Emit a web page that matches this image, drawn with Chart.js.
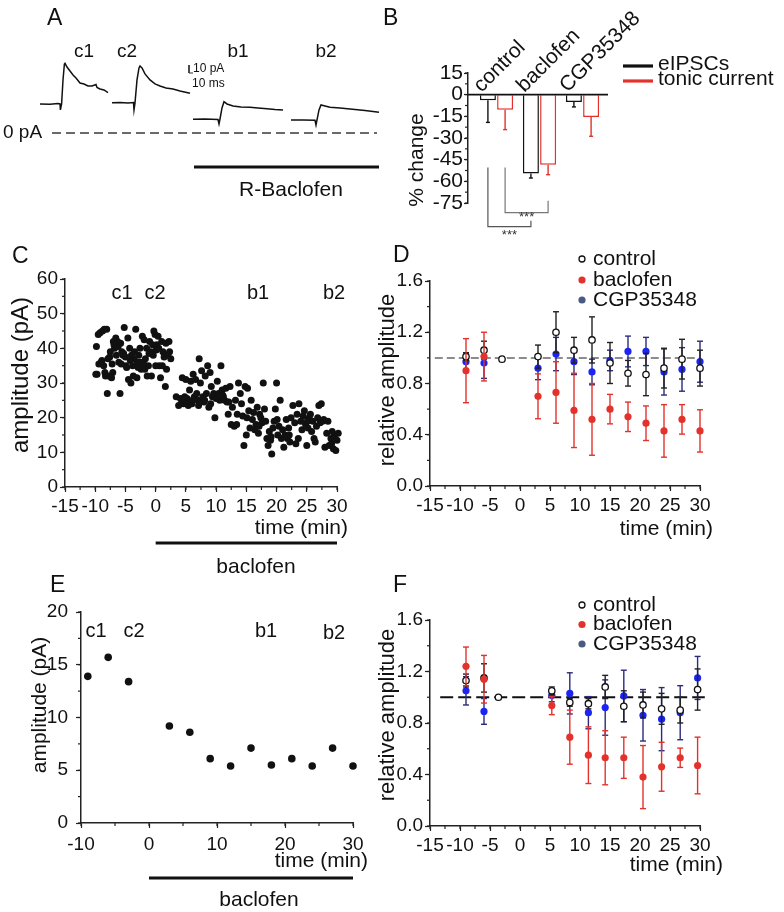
<!DOCTYPE html>
<html>
<head>
<meta charset="utf-8">
<script src="https://cdn.jsdelivr.net/npm/chart.js@4.4.1/dist/chart.umd.min.js"></script>
<style>
  html, body { margin: 0; padding: 0; background: #fff; }
  #page { position: relative; width: 784px; height: 912px; overflow: hidden; background: #fff; }
  #page canvas { position: absolute; left: 0; top: 0; }
</style>
</head>
<body>
<div id="page">
  <canvas id="chartA" width="784" height="912"></canvas>
  <canvas id="chartB" width="784" height="912"></canvas>
  <canvas id="chartC" width="784" height="912"></canvas>
  <canvas id="chartD" width="784" height="912"></canvas>
  <canvas id="chartE" width="784" height="912"></canvas>
  <canvas id="chartF" width="784" height="912"></canvas>
</div>
<script>
// ---------- panel A: example traces, [time ms, current pA] ----------
const traceC1 = [[0,36.3],[25,35.9],[45,36.9],[50,36.3],[51,28.8],[54,36.3],[57.5,66.3],[61,86.3],[62.5,87.1],
  [67.5,82.5],[75,77.5],[82.5,72.5],[90,68.8],[100,62.5],[110,61.3],[120,58.8],[130,58.8],[140,60.6],
  [142.5,56.9],[150,55],[160,53.8],[170,50.4]];
const traceC2 = [[180,37.9],[200,38.1],[220,37.5],[233.75,38.1],[235,28.8],[237.5,37.5],[242.5,66.3],[247.5,81.3],
  [250,83.8],[255,81.3],[262.5,73.8],[275,66.3],[287.5,61.3],[300,58.8],[315,56.3],[332.5,55],[350,52.5],[375,49.6]];
const traceB1 = [[382.5,17.1],[412.5,17.5],[445,16.9],[447.5,11.3],[450,17.5],[455,31.3],[460,39.1],[467.5,36.3],
  [482.5,33.8],[502.5,32.5],[525,32.1],[545,31.3],[567.5,30.4],[587.5,29.4],[607.5,28.8]];
const traceB2 = [[627.5,16.3],[657.5,16.3],[687.5,15.9],[690,10],[692.5,16.3],[697.5,28.8],[702.5,35],[712.5,33.8],
  [725,32.1],[750,31.3],[775,30],[812.5,28.1],[847.5,25.9]];
const zeroLineA = [[30,0],[842.5,0]];
const scaleBarA = [[372.5,85],[372.5,75],[382.5,75]];
const drugBarA = [[385,-42.5],[847.5,-42.5]];

// ---------- panel B: % change ----------
const groups = ['control', 'baclofen', 'CGP35348'];
const groupX = [1, 2, 3];
const eipscChange = [-3.9, -54.5, -5.1];
const eipscSem = [15.3, 3.2, 3.4];
const tonicChange = [-10.4, -48.5, -15.5];
const tonicSem = [13.8, 6.9, 13.3];

// ---------- panel C: single cell eIPSC amplitude ----------
const cTime = [
  -9.8,-9.7,-9.5,-9.2,-9,-8.8,-8.6,-8.5,-8.3,-8.1,
  -8,-7.8,-7.6,-7.5,-7.3,-7.1,-7,-6.8,-6.6,-6.5,
  -6.3,-6.1,-5.9,-5.8,-5.6,-5.4,-5.2,-5,-4.8,-4.6,
  -4.5,-4.3,-4.1,-4,-3.8,-3.6,-3.5,-3.3,-3.1,-3,
  -2.8,-2.6,-2.4,-2.2,-2,-1.9,-1.7,-1.5,-1.4,-1.2,
  -1,-0.8,-0.7,-0.5,-0.3,-0.1,0,0.2,0.4,0.6,
  0.8,1,1.2,1.4,1.6,1.8,2,2.2,2.5,3.4,
  3.8,4.1,4.4,4.6,4.8,5,5.2,5.4,5.6,5.8,
  6,6.2,6.4,6.6,6.8,7,7.2,7.4,7.6,7.8,
  8,8.2,8.4,8.6,8.8,9,9.2,9.4,9.6,9.8,
  10,10.2,10.4,10.6,10.8,11,11.2,11.4,11.6,11.8,
  12,12.3,12.5,12.7,13,13.2,13.5,13.7,14,14.2,
  14.4,14.6,14.8,15,15.2,15.4,15.6,15.8,16,16.2,
  16.4,16.6,16.8,17,17.2,17.4,17.6,17.8,18,18.2,
  18.4,18.6,18.8,19,19.2,19.4,19.6,19.8,20,20.2,
  20.4,20.6,20.8,21,21.2,21.4,21.6,21.8,22,22.2,
  22.4,22.7,23,23.2,23.4,23.7,24,24.2,24.4,24.6,
  24.8,25,25.2,25.4,25.6,25.8,26,26.2,26.4,26.6,
  26.8,27,27.2,27.4,27.6,28,28.3,28.5,28.7,29,
  29.2,29.4,29.6,29.8,30,30.2,
  -9.9,-9.4,-8.9,-8.4,-7.9,-7.2,-6.9,-6.2,-5.7,-5.3,
  -4.9,-4.2,-3.7,-2.9,-2.5,-1.8,-1.1,-0.4,0.1,0.5,
  1.1,1.7,2.3,4.3,5.1,6.1,7.1,8.1,9.1,11.1,
  12.1,13.4,15.1,17.1,19.1,20.1,22.1,23.6,25.1,27.8,
  29.1];
const cAmp = [
  40.5,32.5,44,44.5,36,45,35,45.5,32,45.5,
  27,32,37.5,39,31.5,33,42,40,43,38,
  42,36,27,41.5,39,38,46,37.5,34.5,43,
  31,40,30,38,35,37,39,45.5,31.5,36,
  38,40,34,43.5,35.5,42.5,37,40,32,35,
  42,39,32,41,45,44,35,41,43.5,35,
  31.5,42,39,37.5,29,34,38,42,37,26,
  23.5,25.5,31.5,24,26,31,25.5,23.5,28,30.5,
  24,32.5,26,31,27,25,37,30,33.5,26,
  24.5,32,27,35,23,33,29,26,27,20,
  25.5,30.5,27,25,35,28,26,25,28.5,24.5,
  21,29,18,23,17.5,25,21,30,27,24,
  20.5,12,29,15,28.5,22,17,25,19.5,21.5,
  16.5,18,23,15.5,21,20,18.5,30,22.5,19,
  14,12,16,13.5,9.5,17,19,22.5,30,15,
  17.5,25,14,16.5,11.5,15,19.5,14,17,13,
  20,23.5,18.5,12.5,21,24,19,16.5,20.5,22,
  18,12,17,20,21,16,19,14,13,17.5,
  20,23.5,18.5,24,19,11.5,15.5,19,12,14,
  16,11,15,10.5,13.5,15.5,
  32.5,35.5,36.5,33,37,35.5,41,40.5,35.5,38.5,
  35,36.5,32,34.5,36,34,38.5,38,39.5,40,
  35,41.5,39,25,24,25,23.5,25,24,26.5,
  24.5,18,20,17.5,14.5,19.5,15,14,19,19.5,
  12.5];

// ---------- panel D: relative eIPSC amplitude ----------
const dTimeCtrl = [-9,-6,-3,3,6,9,12,15,18,21,24,27,30];
const dCtrl    = [1.01,1.06,0.99,1.01,1.20,1.06,1.14,0.96,0.88,0.87,0.92,0.99,0.92];
const dCtrlErr = [0.03,0.07,0,0.09,0.16,0.10,0.18,0.16,0.10,0.165,0.155,0.155,0.14];
const dTime    = [-9,-6,3,6,9,12,15,18,21,24,27,30];
const dBac     = [0.90,1.01,0.70,0.73,0.59,0.52,0.60,0.54,0.49,0.43,0.52,0.43];
const dBacErr  = [0.25,0.19,0.175,0.24,0.29,0.28,0.115,0.115,0.135,0.205,0.115,0.165];
const dCgp     = [0.97,0.96,0.92,1.03,0.97,0.89,0.98,1.05,1.05,0.89,0.91,0.97];
const dCgpErr  = [0.07,0.12,0.09,0.13,0.10,0.10,0.08,0.12,0.11,0.18,0.17,0.16];

// ---------- panel E: single cell tonic current ----------
const eTime = [-9,-6,-3,3,6,9,12,15,18,21,24,27,30];
const eAmp  = [13.9,15.7,13.4,9.2,8.6,6.1,5.4,7.1,5.5,6.1,5.4,7.1,5.4];

// ---------- panel F: relative tonic current ----------
const fTimeCtrl = [-9,-6,-3.6,5.3,8.3,11.4,14.2,17.3,20.5,23.6,26.7,29.6];
const fCtrl    = [1.13,1.15,1.0,1.05,0.96,0.95,1.08,0.93,0.94,0.91,0.90,1.06];
const fCtrlErr = [0.05,0.11,0,0.03,0.03,0.04,0.09,0.12,0.10,0.12,0.10,0.16];
const fTime    = [-9,-6,5.3,8.3,11.4,14.2,17.3,20.5,23.6,26.7,29.6];
const fBac     = [1.24,1.14,0.935,0.69,0.55,0.53,0.53,0.38,0.46,0.53,0.47];
const fBacErr  = [0.15,0.185,0.07,0.21,0.22,0.21,0.16,0.245,0.19,0.075,0.22];
const fCgp     = [1.05,0.89,1.015,1.03,0.88,0.92,1.01,0.86,0.83,0.88,1.15];
const fCgpErr  = [0.11,0.10,0.05,0.16,0.125,0.215,0.20,0.20,0.245,0.21,0.167];

// ---------- shared setup ----------
const W = 784, H = 912;
const FONT = "'Liberation Sans', Arial, Helvetica, sans-serif";
const RED = '#e3322c', BLUE = '#1b24f2', NAVY = '#2b2b7c', INK = '#111';

Chart.defaults.font.family = FONT;
Chart.defaults.color = INK;
Chart.defaults.animation = false;
Chart.defaults.plugins.legend.display = false;
Chart.defaults.plugins.tooltip.enabled = false;

const xy = (xs, ys) => xs.map((x, i) => ({ x, y: ys[i] }));
const pts = arr => arr.map(p => ({ x: p[0], y: p[1] }));

// layout padding that puts the chart area where the panel's plot box is
function pad(area, wy, hx) {
  return { left: area.left - wy, right: W - area.right, top: area.top, bottom: H - area.bottom - hx };
}

function linAxis(o) {
  return {
    type: 'linear', min: o.min, max: o.max,
    ticks: {
      stepSize: o.step, autoSkip: false, maxRotation: 0, minRotation: 0,
      padding: o.padding, font: { size: o.size || 19 }, color: INK,
      callback: o.fmt || (v => v)
    },
    grid: { drawOnChartArea: false, drawTicks: true, tickLength: o.tick || 5, tickColor: '#222', tickWidth: 1.2 },
    border: { display: true, color: '#222', width: 1.5 },
    afterFit: s => { if (o.axis === 'x') s.height = o.fit; else s.width = o.fit; }
  };
}

function text(ctx, t) {
  ctx.save();
  ctx.font = (t.size || 19) + 'px ' + FONT;
  ctx.fillStyle = t.color || INK;
  ctx.textAlign = t.align || 'center';
  ctx.textBaseline = t.base || 'middle';
  ctx.translate(t.x, t.y);
  if (t.rot) ctx.rotate(t.rot * Math.PI / 180);
  ctx.fillText(t.t, 0, 0);
  ctx.restore();
}

function seg(ctx, x1, y1, x2, y2) {
  ctx.beginPath(); ctx.moveTo(x1, y1); ctx.lineTo(x2, y2); ctx.stroke();
}

// error bars drawn under each dataset's marks
const errorBars = {
  id: 'errorBars',
  beforeDatasetDraw(chart, args) {
    const ds = chart.data.datasets[args.index];
    if (!ds.err) return;
    const ctx = chart.ctx, ys = chart.scales.y;
    ctx.save();
    ctx.strokeStyle = ds.errColor; ctx.lineWidth = 1.4;
    args.meta.data.forEach((el, i) => {
      const v = ds.data[i].y, e = ds.err[i];
      if (!e) return;
      const top = ds.errDown ? ys.getPixelForValue(v) : ys.getPixelForValue(v + e);
      const bot = ys.getPixelForValue(v - e);
      const c = ds.cap || 3;
      seg(ctx, el.x, top, el.x, bot);
      seg(ctx, el.x - c, bot, el.x + c, bot);
      if (!ds.errDown) seg(ctx, el.x - c, top, el.x + c, top);
    });
    ctx.restore();
  }
};

// per-panel decoration: labels, minor ticks, drug bars, legends
const decor = {};
const extras = {
  id: 'extras',
  beforeDatasetsDraw(chart) {
    const d = decor[chart.canvas.id];
    if (!d || !d.refLine) return;
    const { ctx, scales: { x, y } } = chart, r = d.refLine;
    ctx.save();
    ctx.strokeStyle = r.color; ctx.lineWidth = r.width; ctx.setLineDash(r.dash);
    const py = y.getPixelForValue(r.y);
    seg(ctx, x.getPixelForValue(r.from), py, x.getPixelForValue(r.to), py);
    ctx.restore();
  },
  afterDraw(chart) {
    const d = decor[chart.canvas.id];
    if (!d) return;
    const { ctx, chartArea: a, scales: { x, y } } = chart;
    ctx.save();
    ctx.strokeStyle = '#222'; ctx.lineWidth = 1.2;
    if (d.minorX) for (let v = x.min; v <= x.max + 1e-9; v += d.minorX) {
      const px = x.getPixelForValue(v); seg(ctx, px, a.bottom, px, a.bottom + 3);
    }
    if (d.minorY) for (let v = y.min; v <= y.max + 1e-9; v += d.minorY) {
      const py = y.getPixelForValue(v); seg(ctx, a.left - 3, py, a.left, py);
    }
    if (d.zeroLine) {
      ctx.strokeStyle = INK; ctx.lineWidth = 1.6;
      const py = y.getPixelForValue(0); seg(ctx, a.left, py, a.right, py);
    }
    (d.drugBars || []).forEach(b => {
      ctx.strokeStyle = INK; ctx.lineWidth = 3;
      seg(ctx, x.getPixelForValue(b.from), b.y, x.getPixelForValue(b.to), b.y);
    });
    (d.swatches || []).forEach(s => {
      ctx.strokeStyle = s.color; ctx.lineWidth = 3.2; seg(ctx, s.x1, s.y, s.x2, s.y);
    });
    (d.markers || []).forEach(m => {
      ctx.beginPath(); ctx.arc(m.x, m.y, m.r, 0, Math.PI * 2);
      if (m.open) { ctx.fillStyle = '#fff'; ctx.fill(); ctx.strokeStyle = INK; ctx.lineWidth = 1.3; ctx.stroke(); }
      else { ctx.fillStyle = m.color; ctx.fill(); }
    });
    (d.brackets || []).forEach(b => {
      const xa = chart.getDatasetMeta(b.a[0]).data[b.a[1]].x;
      const xb = chart.getDatasetMeta(b.b[0]).data[b.b[1]].x;
      ctx.strokeStyle = b.color; ctx.lineWidth = 1.2;
      ctx.beginPath();
      ctx.moveTo(xa, y.getPixelForValue(b.top));
      ctx.lineTo(xa, y.getPixelForValue(b.low));
      ctx.lineTo(xb, y.getPixelForValue(b.low));
      ctx.lineTo(xb, y.getPixelForValue(b.end));
      ctx.stroke();
      text(ctx, { t: '***', x: (xa + xb) / 2, y: y.getPixelForValue(b.star), size: 13, color: '#333' });
    });
    if (d.catLabels) {
      const c = d.catLabels;
      c.labels.forEach((lab, i) => text(ctx, { t: lab, x: x.getPixelForValue(c.xs[i]) + c.dx, y: c.y,
        size: c.size, rot: -45, align: 'left', base: 'alphabetic' }));
    }
    (d.texts || []).forEach(t => text(ctx, t));
    ctx.restore();
  }
};
Chart.register(errorBars, extras);

// ---------- A ----------
const areaA = { left: 40, right: 380, top: 53, bottom: 173 };
const traceSet = arr => ({ data: pts(arr), showLine: true, borderColor: INK, borderWidth: 1.5, pointRadius: 0, clip: false });
decor.chartA = {
  texts: [
    { t: 'A', x: 47, y: 25, size: 23, align: 'left', base: 'alphabetic' },
    { t: 'c1', x: 84, y: 52 }, { t: 'c2', x: 127, y: 52 },
    { t: 'b1', x: 238, y: 52 }, { t: 'b2', x: 326, y: 52 },
    { t: '0 pA', x: 3, y: 133, align: 'left' },
    { t: '10 pA', x: 193, y: 69, size: 12, align: 'left' },
    { t: '10 ms', x: 192, y: 84, size: 12, align: 'left' },
    { t: 'R-Baclofen', x: 291, y: 190, size: 21 }
  ]
};
new Chart(document.getElementById('chartA'), {
  type: 'scatter',
  data: { datasets: [
    traceSet(traceC1), traceSet(traceC2), traceSet(traceB1), traceSet(traceB2),
    { data: pts(zeroLineA), showLine: true, borderColor: '#3a3a3a', borderWidth: 1.3, borderDash: [9, 5], pointRadius: 0, clip: false },
    { data: pts(scaleBarA), showLine: true, borderColor: '#333', borderWidth: 1, pointRadius: 0, clip: false },
    { data: pts(drugBarA), showLine: true, borderColor: INK, borderWidth: 3, pointRadius: 0, clip: false }
  ]},
  options: {
    responsive: false, devicePixelRatio: 1,
    layout: { padding: pad(areaA, 0, 0) },
    scales: { x: { type: 'linear', min: 0, max: 850, display: false }, y: { min: -50, max: 100, display: false } }
  }
});

// ---------- B ----------
const areaB = { left: 468, right: 608, top: 73, bottom: 203 };
decor.chartB = {
  minorY: 7.5,
  zeroLine: true,
  catLabels: { labels: groups, xs: groupX, dx: -15, y: 93, size: 21 },
  swatches: [{ x1: 623, x2: 653, y: 66, color: INK }, { x1: 623, x2: 653, y: 81, color: RED }],
  brackets: [
    { a: [0, 0], b: [0, 1], top: -50.5, low: -91.4, end: -87.3, star: -97.6, color: '#555' },
    { a: [1, 0], b: [1, 1], top: -50.5, low: -81.7, end: -73.4, star: -85.2, color: '#777' }
  ],
  texts: [
    { t: 'B', x: 383, y: 25, size: 23, align: 'left', base: 'alphabetic' },
    { t: '% change', x: 417, y: 160, size: 21, rot: -90 },
    { t: 'eIPSCs', x: 658, y: 64, size: 21, align: 'left' },
    { t: 'tonic current', x: 658, y: 79, size: 21, align: 'left' }
  ]
};
new Chart(document.getElementById('chartB'), {
  type: 'bar',
  data: { datasets: [
    { data: xy(groupX, eipscChange), err: eipscSem, errDown: true, errColor: INK, cap: 2,
      backgroundColor: '#fff', borderColor: INK, borderWidth: 1.5 },
    { data: xy(groupX, tonicChange), err: tonicSem, errDown: true, errColor: RED, cap: 2,
      backgroundColor: '#fff', borderColor: RED, borderWidth: 1.5 }
  ]},
  options: {
    responsive: false, devicePixelRatio: 1,
    categoryPercentage: 0.8, barPercentage: 0.93,
    layout: { padding: pad(areaB, 40, 0) },
    scales: {
      x: { type: 'linear', min: 0.337, max: 3.593, offset: false, display: false },
      y: linAxis({ axis: 'y', min: -75, max: 15, step: 15, size: 21, padding: 1, tick: 4, fit: 40 })
    }
  }
});

// ---------- C ----------
const areaC = { left: 65, right: 337, top: 279, bottom: 487 };
decor.chartC = {
  minorX: 2.5, minorY: 5,
  drugBars: [{ from: 0, to: 30, y: 543 }],
  texts: [
    { t: 'C', x: 12, y: 263, size: 23, align: 'left', base: 'alphabetic' },
    { t: 'c1', x: 122, y: 293, size: 20 }, { t: 'c2', x: 155, y: 293, size: 20 },
    { t: 'b1', x: 258, y: 293, size: 20 }, { t: 'b2', x: 334, y: 293, size: 20 },
    { t: 'time (min)', x: 348, y: 528, size: 21, align: 'right' },
    { t: 'baclofen', x: 256, y: 567, size: 21 },
    { t: 'amplitude (pA)', x: 21, y: 375, size: 24, rot: -90 }
  ]
};
new Chart(document.getElementById('chartC'), {
  type: 'scatter',
  data: { datasets: [
    { data: xy(cTime, cAmp), pointRadius: 3.5, pointBackgroundColor: INK, pointBorderWidth: 0, clip: false }
  ]},
  options: {
    responsive: false, devicePixelRatio: 1,
    layout: { padding: pad(areaC, 60, 30) },
    scales: {
      x: linAxis({ axis: 'x', min: -15, max: 30, step: 5, padding: 3, fit: 30 }),
      y: linAxis({ axis: 'y', min: 0, max: 60, step: 10, padding: 2, fit: 60 })
    }
  }
});

// ---------- D and F share their layout ----------
function relChart(id, area, tc, ctrl, ctrlErr, t, bac, bacErr, cgp, cgpErr) {
  return new Chart(document.getElementById(id), {
    type: 'scatter',
    data: { datasets: [
      { data: xy(t, bac), err: bacErr, errColor: RED, pointRadius: 3.6, pointBackgroundColor: RED, pointBorderWidth: 0, clip: false },
      { data: xy(tc, ctrl), err: ctrlErr, errColor: '#222', pointRadius: 3.2, pointBackgroundColor: '#fff',
        pointBorderColor: INK, pointBorderWidth: 1.3, clip: false },
      { data: xy(t, cgp), err: cgpErr, errColor: NAVY, pointRadius: 3.6, pointBackgroundColor: BLUE, pointBorderWidth: 0, clip: false }
    ]},
    options: {
      responsive: false, devicePixelRatio: 1,
      layout: { padding: pad(area, 40, 30) },
      scales: {
        x: linAxis({ axis: 'x', min: -15, max: 30, step: 5, padding: 3, fit: 30 }),
        y: linAxis({ axis: 'y', min: 0, max: 1.6, step: 0.4, padding: 2, fit: 40, fmt: v => v.toFixed(1) })
      }
    }
  });
}
function relLegend(y0, y1, y2) {
  return {
    markers: [
      { x: 582, y: y0, r: 3, open: true },
      { x: 582, y: y1, r: 3.6, color: RED },
      { x: 582, y: y2, r: 3.6, color: '#4a5a82' }
    ],
    texts: [
      { t: 'control', x: 593, y: y0, size: 21, align: 'left' },
      { t: 'baclofen', x: 593, y: y1, size: 21, align: 'left' },
      { t: 'CGP35348', x: 593, y: y2, size: 21, align: 'left' }
    ]
  };
}

const areaD = { left: 430, right: 700, top: 281, bottom: 486 };
const legD = relLegend(259, 280, 300);
decor.chartD = {
  minorX: 2.5, minorY: 0.2,
  refLine: { y: 1, from: -14.2, to: 30, color: '#8c8c8c', width: 2, dash: [8, 4] },
  markers: legD.markers,
  texts: legD.texts.concat([
    { t: 'D', x: 393, y: 262, size: 23, align: 'left', base: 'alphabetic' },
    { t: 'relative amplitude', x: 388, y: 380, size: 22, rot: -90 },
    { t: 'time (min)', x: 713, y: 529, size: 21, align: 'right' }
  ])
};
relChart('chartD', areaD, dTimeCtrl, dCtrl, dCtrlErr, dTime, dBac, dBacErr, dCgp, dCgpErr);

// ---------- E ----------
const areaE = { left: 81, right: 353, top: 612, bottom: 823 };
decor.chartE = {
  minorX: 5, minorY: 2.5,
  drugBars: [{ from: 0, to: 30, y: 878 }],
  texts: [
    { t: 'E', x: 50, y: 592, size: 23, align: 'left', base: 'alphabetic' },
    { t: 'c1', x: 96, y: 631, size: 20 }, { t: 'c2', x: 134, y: 631, size: 20 },
    { t: 'b1', x: 266, y: 631, size: 20 }, { t: 'b2', x: 334, y: 633, size: 20 },
    { t: 'amplitude (pA)', x: 40, y: 705, size: 21, rot: -90 },
    { t: 'time (min)', x: 368, y: 861, size: 21, align: 'right' },
    { t: 'baclofen', x: 259, y: 900, size: 21 }
  ]
};
new Chart(document.getElementById('chartE'), {
  type: 'scatter',
  data: { datasets: [
    { data: xy(eTime, eAmp), pointRadius: 3.8, pointBackgroundColor: INK, pointBorderWidth: 0, clip: false }
  ]},
  options: {
    responsive: false, devicePixelRatio: 1,
    layout: { padding: pad(areaE, 60, 30) },
    scales: {
      x: linAxis({ axis: 'x', min: -10, max: 30, step: 10, padding: 5, fit: 30 }),
      y: linAxis({ axis: 'y', min: 0, max: 20, step: 5, padding: 8, fit: 60 })
    }
  }
});

// ---------- F ----------
const areaF = { left: 430, right: 700, top: 620, bottom: 826 };
const legF = relLegend(605, 624.5, 644);
decor.chartF = {
  minorX: 2.5, minorY: 0.2,
  refLine: { y: 1, from: -13.3, to: 30.8, color: INK, width: 1.8, dash: [13, 5] },
  markers: legF.markers,
  texts: legF.texts.concat([
    { t: 'F', x: 393, y: 592, size: 23, align: 'left', base: 'alphabetic' },
    { t: 'relative amplitude', x: 388, y: 715, size: 22, rot: -90 },
    { t: 'time (min)', x: 723, y: 865, size: 21, align: 'right' }
  ])
};
relChart('chartF', areaF, fTimeCtrl, fCtrl, fCtrlErr, fTime, fBac, fBacErr, fCgp, fCgpErr);
</script>
</body>
</html>
